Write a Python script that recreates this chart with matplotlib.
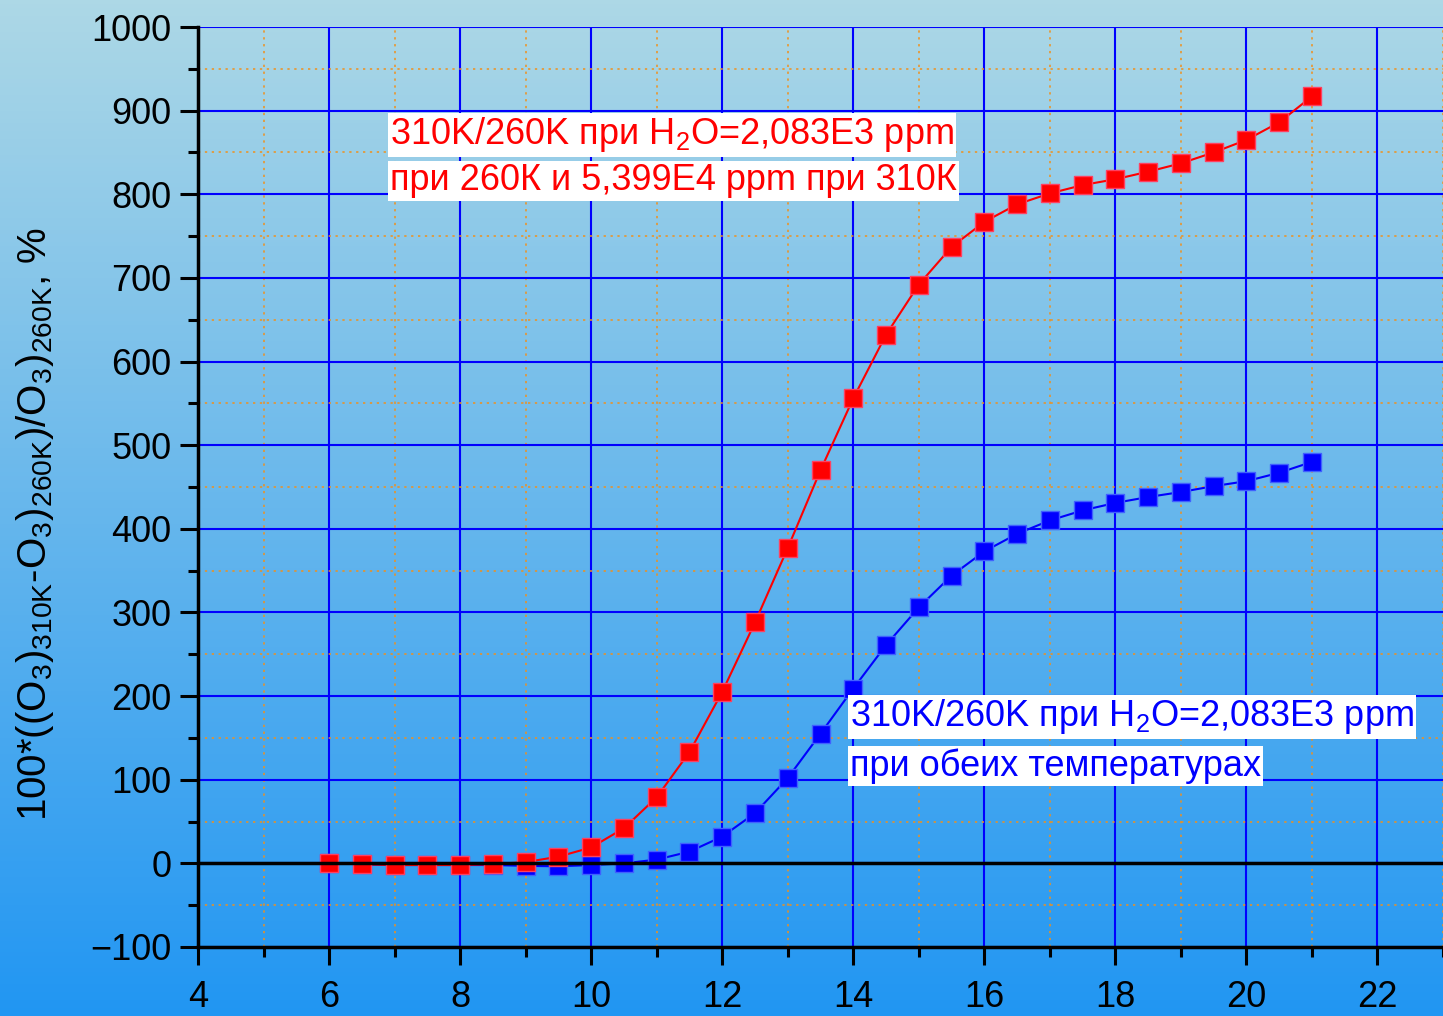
import numpy as np
import matplotlib
matplotlib.use("Agg")
import matplotlib.pyplot as plt
from matplotlib.ticker import MultipleLocator
from matplotlib.colors import LinearSegmentedColormap

plt.rcParams['font.family'] = ['Liberation Sans', 'DejaVu Sans']
plt.rcParams['mathtext.fontset'] = 'custom'
plt.rcParams['mathtext.rm'] = 'Liberation Sans'
plt.rcParams['mathtext.it'] = 'Liberation Sans:italic'
plt.rcParams['mathtext.bf'] = 'Liberation Sans:bold'

x_vals = [6, 6.5, 7, 7.5, 8, 8.5, 9, 9.5, 10, 10.5, 11, 11.5, 12, 12.5, 13, 13.5,
          14, 14.5, 15, 15.5, 16, 16.5, 17, 17.5, 18, 18.5, 19, 19.5, 20, 20.5, 21]
red_vals = [0, -1, -2, -2, -2, -1, 1.5, 8, 19, 42, 79, 133, 205, 288, 377, 470,
            556, 632, 692, 737, 767, 788, 801, 811, 818, 827, 837, 850, 865, 886, 917]
blue_vals = [0, -1, -2, -2, -2, -2, -3, -3.5, -2, 0, 4.5, 14, 32, 60, 102, 155,
             209, 261, 306, 344, 373, 394, 410, 422, 431, 438, 444, 451, 457, 467, 480]

red_label = ["310K/260K при H$\\mathregular{_2}$O=2,083E3 ppm",
             "при 260К и 5,399E4 ppm при 310К"]
blue_label = ["310K/260K при H$\\mathregular{_2}$O=2,083E3 ppm",
              "при обеих температурах"]
ylabel = ("100*((O$\\mathregular{_3}$)$\\mathregular{_{310K}}$-O$\\mathregular{_3}$)"
          "$\\mathregular{_{260K}}$)/O$\\mathregular{_3}$)$\\mathregular{_{260K}}$, %")

fig = plt.figure(figsize=(14.43, 10.16), dpi=100)

# background gradient
bg = fig.add_axes([0, 0, 1, 1], zorder=-10)
cmap = LinearSegmentedColormap.from_list("bg", ["#add8e6", "#2196f3"])
grad = np.linspace(0, 1, 256).reshape(-1, 1)
bg.imshow(grad, aspect='auto', cmap=cmap, extent=[0, 1, 0, 1], origin='upper')
bg.axis('off')

ax = fig.add_axes([198/1443, 1-947/1016, 1-198/1443, (947-27)/1016])
ax.patch.set_alpha(0)

ax.set_xlim(4, 23)
ax.set_ylim(-100, 1000)
ax.xaxis.set_major_locator(MultipleLocator(2))
ax.xaxis.set_minor_locator(MultipleLocator(1))
ax.yaxis.set_major_locator(MultipleLocator(100))
ax.yaxis.set_minor_locator(MultipleLocator(50))

ax.grid(which='major', color='#0000ff', linewidth=1.5, linestyle='-', zorder=0)
ax.grid(which='minor', color='#f0901c', linewidth=1.1, linestyle=(0, (1.5, 3)), zorder=0)
ax.set_axisbelow(True)

for s in ['top', 'right']:
    ax.spines[s].set_visible(False)
for s in ['left', 'bottom']:
    ax.spines[s].set_linewidth(2.5)
    ax.spines[s].set_color('black')

ax.tick_params(which='major', length=13, width=2.2, labelsize=26, color='black', pad=6)
ax.tick_params(which='minor', length=7, width=2.2, color='black')
ax.tick_params(axis='x', pad=11)

ax.axhline(0, color='black', linewidth=2.5, zorder=5)

ax.plot(x_vals, blue_vals, color='#0000ff', linewidth=1.5, marker='s', markersize=13.5,
        markerfacecolor='#0000ff', markeredgecolor='#4060ff', markeredgewidth=1, zorder=3)
ax.plot(x_vals, red_vals, color='#ff0000', linewidth=1.5, marker='s', markersize=13.5,
        markerfacecolor='#ff0000', markeredgecolor='#ff4060', markeredgewidth=1, zorder=4)

box = dict(facecolor='white', edgecolor='none', pad=1.5)
ax.text(6.93, 871, red_label[0], color='#ff0000', fontsize=26, ha='left', va='center', bbox=box, zorder=6)
ax.text(6.93, 816, red_label[1], color='#ff0000', fontsize=26, ha='left', va='center', bbox=box, zorder=6)
ax.text(13.95, 175, blue_label[0], color='#0000ff', fontsize=26, ha='left', va='center', bbox=box, zorder=6)
ax.text(13.95, 116, blue_label[1], color='#0000ff', fontsize=26, ha='left', va='center', bbox=box, zorder=6)

ax.set_ylabel(ylabel, fontsize=29)
ax.yaxis.set_label_coords(-0.114, 0.46)

fig.savefig("out.png", dpi=100)
